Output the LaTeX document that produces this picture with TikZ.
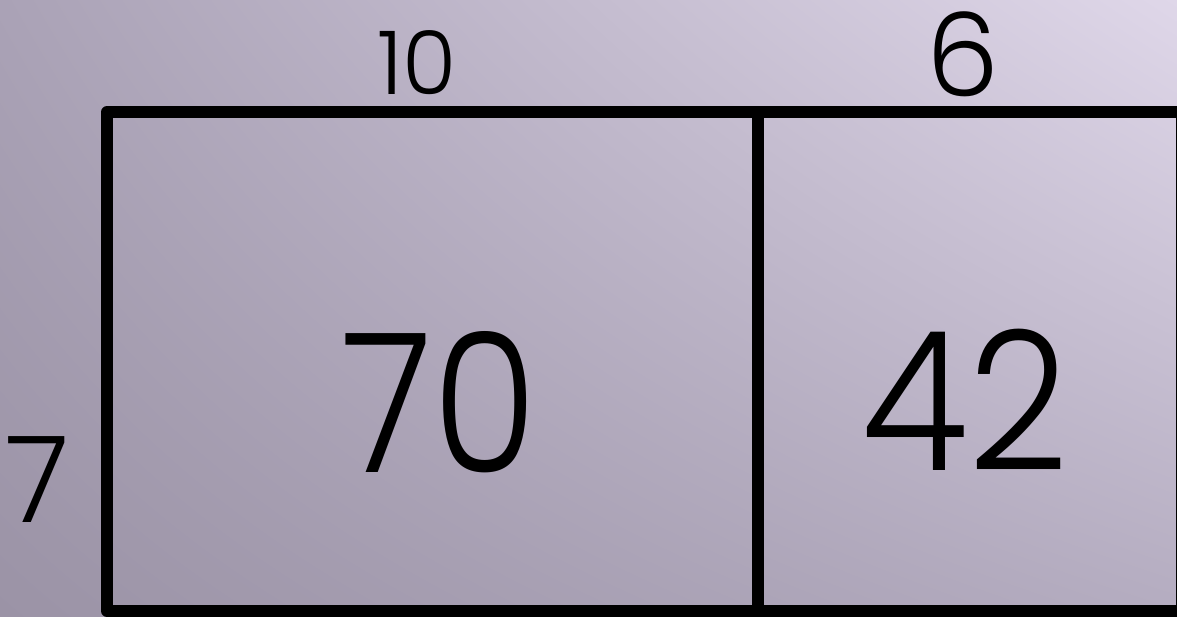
\documentclass[tikz,border=0pt]{standalone}
\usepackage{fontspec}
\setmainfont{Poppins}[UprightFont=* Light]
\usetikzlibrary{shadings}
\definecolor{bgTL}{RGB}{170,162,182}
\definecolor{bgTR}{RGB}{223,215,233}
\definecolor{bgBL}{RGB}{155,147,166}
\definecolor{bgBR}{RGB}{180,172,192}
\begin{document}
\begin{tikzpicture}[x=0.5pt,y=-0.5pt,
  lbl/.style={inner sep=0pt,anchor=center,text=black},
  edge/.style={line width=6pt,draw=black}]
\useasboundingbox (0,0) rectangle (1177,616);
\clip (0,0) rectangle (1177,616);
\shade[upper left=bgTL,upper right=bgTR,lower left=bgBL,lower right=bgBR] (0,0) rectangle (1177,616);
\coordinate (tl) at (107,112);
\coordinate (br) at (1182,611);
\coordinate (dt) at (758,112);
\coordinate (db) at (758,611);
\draw[edge,line join=round] (tl) rectangle (br);
\draw[edge] (dt) -- (db);
\node[lbl,font=\fontsize{44pt}{44pt}\selectfont] (ten) at (417,62.5) {10};
\node[lbl,font=\fontsize{58pt}{58pt}\selectfont] (six) at (963,54) {6};
\node[lbl,font=\fontsize{60pt}{60pt}\selectfont] (seven) at (37,480) {7};
\node[lbl,font=\fontsize{97pt}{97pt}\selectfont,xscale=0.88] (seventy) at (440,402) {70};
\node[lbl,font=\fontsize{97pt}{97pt}\selectfont,xscale=0.9] (ftwo) at (965,400) {42};
\end{tikzpicture}
\end{document}
